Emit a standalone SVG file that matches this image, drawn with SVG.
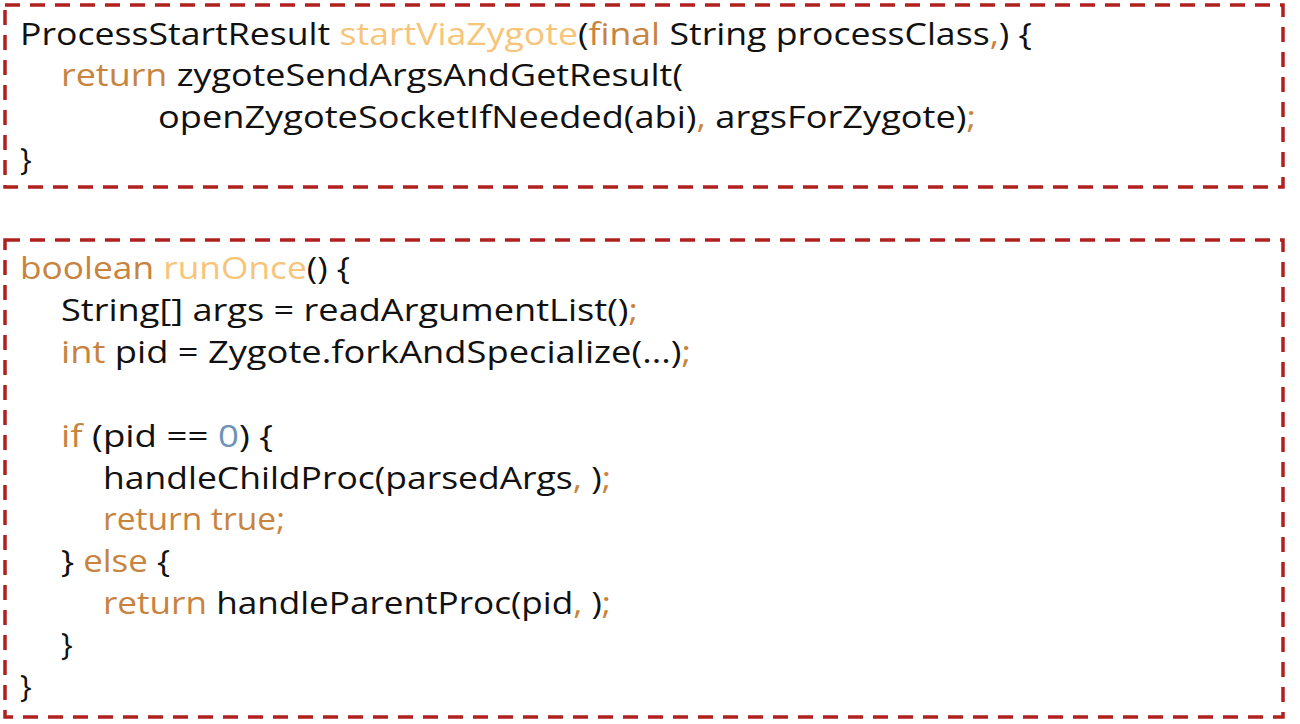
<svg xmlns="http://www.w3.org/2000/svg" width="1300" height="724" viewBox="0 0 1300 724">
<style>
.box{fill:none;stroke:#b0201e;stroke-width:3.5;stroke-dasharray:15 10}
text{font-family:"Open Sans","Noto Sans",sans-serif;font-size:31px;fill:#111}
.k{fill:#c8843e}
.m{fill:#f7c57a}
.n{fill:#6d94b8}
</style>
<rect width="1300" height="724" fill="#ffffff"/>
<g id="box-startViaZygote">
<rect class="box" x="5" y="5" width="1278" height="182"/>
<text x="20" y="45" textLength="1012" lengthAdjust="spacingAndGlyphs">ProcessStartResult <tspan class="m">startViaZygote</tspan>(<tspan class="k">final</tspan> String processClass<tspan class="k">,</tspan>) {</text>
<text x="61" y="86" textLength="622" lengthAdjust="spacingAndGlyphs"><tspan class="k">return</tspan> zygoteSendArgsAndGetResult(</text>
<text x="158" y="128" textLength="818" lengthAdjust="spacingAndGlyphs">openZygoteSocketIfNeeded(abi)<tspan class="k">,</tspan> argsForZygote)<tspan class="k">;</tspan></text>
<text x="20" y="170">}</text>
</g>
<g id="box-runOnce">
<rect class="box" x="5" y="240" width="1278" height="477"/>
<text x="20" y="279" textLength="330" lengthAdjust="spacingAndGlyphs"><tspan class="k">boolean</tspan> <tspan class="m">runOnce</tspan>() {</text>
<text x="61" y="321" textLength="577" lengthAdjust="spacingAndGlyphs">String[] args = readArgumentList()<tspan class="k">;</tspan></text>
<text x="61" y="363" textLength="630" lengthAdjust="spacingAndGlyphs"><tspan class="k">int</tspan> pid = Zygote.forkAndSpecialize(...)<tspan class="k">;</tspan></text>
<text x="61" y="447" textLength="212" lengthAdjust="spacingAndGlyphs"><tspan class="k">if</tspan> (pid == <tspan class="n">0</tspan>) {</text>
<text x="103" y="489" textLength="508" lengthAdjust="spacingAndGlyphs">handleChildProc(parsedArgs<tspan class="k">,</tspan> )<tspan class="k">;</tspan></text>
<text x="103" y="530" textLength="182" lengthAdjust="spacingAndGlyphs" class="k">return true;</text>
<text x="61" y="572" textLength="109" lengthAdjust="spacingAndGlyphs">} <tspan class="k">else</tspan> {</text>
<text x="103" y="614" textLength="508" lengthAdjust="spacingAndGlyphs"><tspan class="k">return</tspan> handleParentProc(pid<tspan class="k">,</tspan> )<tspan class="k">;</tspan></text>
<text x="61" y="655">}</text>
<text x="20" y="697">}</text>
</g>
<g id="connectors"></g>
</svg>
